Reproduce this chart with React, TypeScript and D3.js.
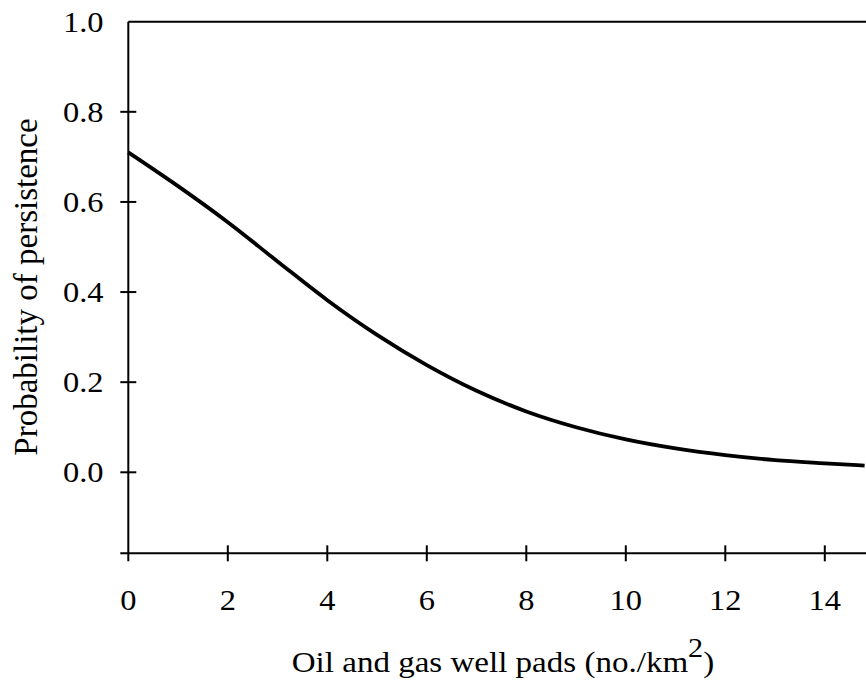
import React, { useRef, useEffect } from 'react';
import * as d3 from 'd3';

// well pad density (no./km2) and predicted probability of persistence
const padDensity = [0, 1, 2, 3, 4, 5, 6, 7, 8, 9, 10, 11, 12, 13, 14, 14.8];
const persistence = [0.71, 0.635, 0.555, 0.468, 0.382, 0.305, 0.238, 0.181, 0.135, 0.1, 0.073, 0.053, 0.038, 0.027, 0.02, 0.015];

const xTicks = [0, 2, 4, 6, 8, 10, 12, 14];
const yTicks = [0.0, 0.2, 0.4, 0.6, 0.8, 1.0];

const width = 866;
const height = 689;
const font = '"Liberation Serif", "Times New Roman", serif';
const stretch = 1.1; // the original text is a little wider than plain Times

const App = () => {
  const ref = useRef<SVGGElement>(null);

  useEffect(() => {
    const g = d3.select(ref.current);
    g.selectAll('*').remove();

    const left = 128.3;
    const top = 21.7;
    const bottom = 553.3;

    const x = d3.scaleLinear().domain([0, 14]).range([left, 824.8]);
    const y = d3.scaleLinear().domain([0, 1]).range([472.3, top]);

    // frame line on top
    g.append('line')
      .attr('x1', left).attr('x2', width + 10)
      .attr('y1', top).attr('y2', top)
      .attr('stroke', '#000').attr('stroke-width', 2);

    // y axis
    g.append('line')
      .attr('x1', left).attr('x2', left)
      .attr('y1', top).attr('y2', bottom + 8)
      .attr('stroke', '#000').attr('stroke-width', 2);

    // x axis
    g.append('line')
      .attr('x1', left - 8).attr('x2', width + 10)
      .attr('y1', bottom).attr('y2', bottom)
      .attr('stroke', '#000').attr('stroke-width', 2);

    g.selectAll('.ytick')
      .data(yTicks.filter(d => d < 1))
      .enter()
      .append('line')
      .attr('x1', left - 8).attr('x2', left + 8)
      .attr('y1', d => y(d)).attr('y2', d => y(d))
      .attr('stroke', '#000').attr('stroke-width', 2);

    g.selectAll('.ylab')
      .data(yTicks)
      .enter()
      .append('text')
      .attr('transform', d => `translate(103.5, ${y(d)}) scale(${stretch}, 1)`)
      .attr('dy', '0.34em')
      .attr('text-anchor', 'end')
      .attr('font-family', font)
      .attr('font-size', 29.5)
      .text(d => d3.format('.1f')(d));

    g.selectAll('.xtick')
      .data(xTicks.filter(d => d > 0))
      .enter()
      .append('line')
      .attr('x1', d => x(d)).attr('x2', d => x(d))
      .attr('y1', bottom - 8).attr('y2', bottom + 8)
      .attr('stroke', '#000').attr('stroke-width', 2);

    g.selectAll('.xlab')
      .data(xTicks)
      .enter()
      .append('text')
      .attr('transform', d => `translate(${x(d)}, 609.5) scale(${stretch}, 1)`)
      .attr('text-anchor', 'middle')
      .attr('font-family', font)
      .attr('font-size', 29.5)
      .text(d => d);

    const line = d3
      .line<number>()
      .x((d, i) => x(padDensity[i]))
      .y(d => y(d))
      .curve(d3.curveMonotoneX);

    g.append('path')
      .datum(persistence)
      .attr('d', line)
      .attr('fill', 'none')
      .attr('stroke', '#000')
      .attr('stroke-width', 3.8);

    g.append('text')
      .attr('transform', `translate(37, 287) rotate(-90)`)
      .attr('text-anchor', 'middle')
      .attr('font-family', font)
      .attr('font-size', 33)
      .text('Probability of persistence');

    const xt = g.append('text')
      .attr('transform', `translate(503, 671.5) scale(1.12, 1)`)
      .attr('text-anchor', 'middle')
      .attr('font-family', font)
      .attr('font-size', 29.5);
    xt.append('tspan').text('Oil and gas well pads (no./km');
    xt.append('tspan').attr('font-size', 27).attr('dy', -15).text('2');
    xt.append('tspan').attr('dy', 15).text(')');
  }, []);

  return (
    <svg width={width} height={height} style={{ position: 'absolute', left: 0, top: 0 }}>
      <rect width={width} height={height} fill="#fff" />
      <g ref={ref} />
    </svg>
  );
};

export default App;
